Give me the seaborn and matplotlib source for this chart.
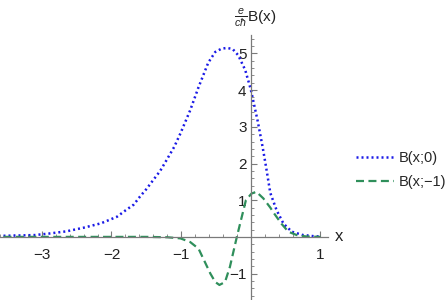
import numpy as np
import pandas as pd
import matplotlib
matplotlib.use("Agg")
import matplotlib.pyplot as plt
from matplotlib.ticker import MultipleLocator, FixedLocator
import seaborn as sns

# B(x;0)
x_b0 = [-3.55, -3.3, -3.1, -2.9, -2.65, -2.4, -2.15, -1.92, -1.8, -1.68, -1.59, -1.5, -1.4,
        -1.3, -1.21, -1.1, -1.01, -0.87, -0.75, -0.61, -0.51, -0.42, -0.34, -0.26, -0.18,
        -0.08, 0.0, 0.1, 0.17, 0.22, 0.28, 0.37, 0.47, 0.59, 0.75, 0.9, 1.0]
y_b0 = [0.03, 0.04, 0.05, 0.09, 0.15, 0.25, 0.37, 0.55, 0.72, 0.88, 1.1, 1.3, 1.55,
        1.8, 2.09, 2.45, 2.82, 3.45, 4.08, 4.75, 5.04, 5.13, 5.15, 5.12, 4.95,
        4.55, 4.02, 3.15, 2.45, 1.9, 1.2, 0.73, 0.36, 0.14, 0.05, 0.02, 0.01]

# B(x;-1)
x_bm1 = [-3.55, -2.5, -1.5, -1.2, -1.01, -0.87, -0.75, -0.66, -0.58, -0.51, -0.45, -0.37,
         -0.30, -0.25, -0.20, -0.13, -0.07, 0.01, 0.08, 0.18, 0.28, 0.32, 0.44, 0.54,
         0.66, 0.8, 1.0]
y_bm1 = [0.0, 0.0, 0.0, -0.01, -0.04, -0.14, -0.32, -0.68, -1.0, -1.23, -1.31, -1.23,
         -0.82, -0.41, 0.0, 0.54, 1.0, 1.18, 1.23, 1.05, 0.8, 0.68, 0.36, 0.14,
         0.05, 0.01, 0.0]

labels = ["B(x;0)", "B(x;\u22121)"]
x_ticks = [-3, -2, -1, 1]
y_ticks = [-1, 1, 2, 3, 4, 5]

sns.set_theme(style="white")
plt.rcParams["font.family"] = ["Liberation Sans", "DejaVu Sans"]
plt.rcParams["mathtext.fontset"] = "custom"
plt.rcParams["mathtext.rm"] = "Liberation Sans"
plt.rcParams["mathtext.it"] = "Liberation Sans:italic"
plt.rcParams["axes.unicode_minus"] = True

fig = plt.figure(figsize=(4.47, 3.0), dpi=100)
ax = fig.add_axes([0.0, 0.0, 0.734, 0.883])

blue = "#1a1ae6"
green = "#2f8f5b"

df0 = pd.DataFrame({"x": x_b0, "y": y_b0})
df1 = pd.DataFrame({"x": x_bm1, "y": y_bm1})
sns.lineplot(data=df0, x="x", y="y", ax=ax, color=blue, lw=1.8, sort=False,
             estimator=None, label=labels[0], linestyle=(0, (0.8, 1.2)))
sns.lineplot(data=df1, x="x", y="y", ax=ax, color=green, lw=1.6, sort=False,
             estimator=None, label=labels[1], linestyle=(0, (3.6, 2.0)))

ax.set_xlim(-3.6, 1.11)
ax.set_ylim(-1.72, 5.5)

# axes crossing at the origin
for s in ["top", "right"]:
    ax.spines[s].set_visible(False)
for s in ["left", "bottom"]:
    ax.spines[s].set_position(("data", 0))
    ax.spines[s].set_color("#7a7a7a")
    ax.spines[s].set_linewidth(0.9)

ax.xaxis.set_major_locator(FixedLocator(x_ticks))
ax.yaxis.set_major_locator(FixedLocator(y_ticks))
ax.xaxis.set_minor_locator(MultipleLocator(0.2))
ax.yaxis.set_minor_locator(MultipleLocator(0.2))
ax.set_xticklabels([str(t).replace("-", "\u2212") for t in x_ticks])
ax.set_yticklabels([str(t).replace("-", "\u2212") for t in y_ticks])
ax.tick_params(which="both", direction="in", color="#7a7a7a", labelsize=11,
               labelcolor="#222222", bottom=True, left=True)
ax.tick_params(which="major", length=4, width=0.8, pad=3)
ax.tick_params(which="minor", length=2, width=0.6)
ax.tick_params(axis="x", which="major", pad=8)
ax.set_xlabel("")
ax.set_ylabel("")

ax.text(1.2, 0.0, "x", fontsize=12, va="center", ha="left", color="#222222")
ax.text(0.06, 5.98, r"$\frac{e}{c\hbar}$B(x)", fontsize=11, va="center", ha="center",
        color="#222222", clip_on=False)

ax.legend(loc="center left", bbox_to_anchor=(343 / 447, 1 - 170 / 300),
          bbox_transform=fig.transFigure, frameon=False, fontsize=10.5,
          handlelength=2.6, handletextpad=0.35, labelspacing=0.7)

fig.savefig("out.png", dpi=100)
